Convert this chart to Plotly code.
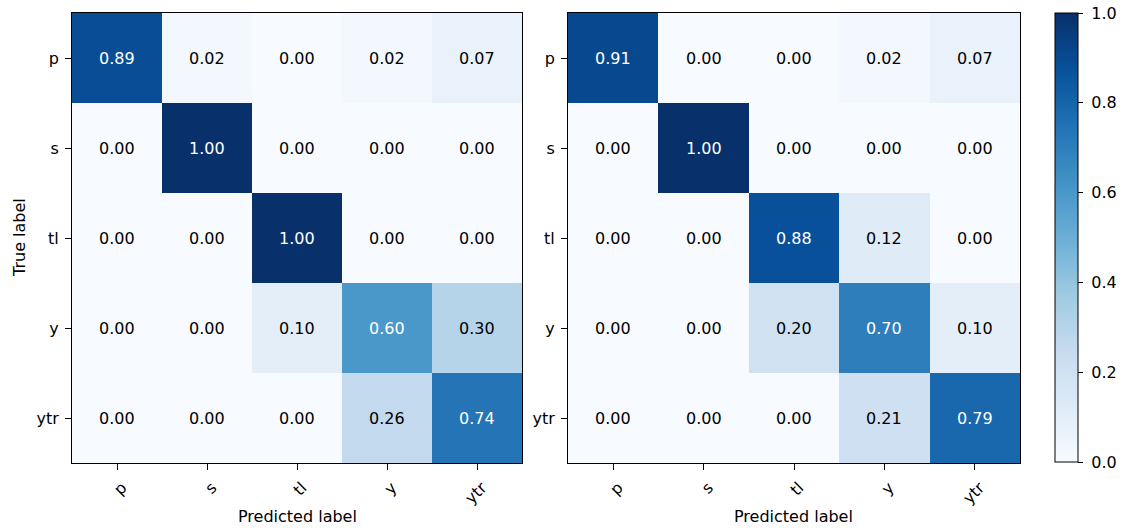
import plotly.graph_objects as go

labels = ["p", "s", "tl", "y", "ytr"]

cm_left = [
    [0.89, 0.02, 0.00, 0.02, 0.07],
    [0.00, 1.00, 0.00, 0.00, 0.00],
    [0.00, 0.00, 1.00, 0.00, 0.00],
    [0.00, 0.00, 0.10, 0.60, 0.30],
    [0.00, 0.00, 0.00, 0.26, 0.74],
]

cm_right = [
    [0.91, 0.00, 0.00, 0.02, 0.07],
    [0.00, 1.00, 0.00, 0.00, 0.00],
    [0.00, 0.00, 0.88, 0.12, 0.00],
    [0.00, 0.00, 0.20, 0.70, 0.10],
    [0.00, 0.00, 0.00, 0.21, 0.79],
]

cbar_ticks = [0.0, 0.2, 0.4, 0.6, 0.8, 1.0]

blues = [
    [0.000, "#f7fbff"], [0.125, "#deebf7"], [0.250, "#c6dbef"],
    [0.375, "#9ecae1"], [0.500, "#6baed6"], [0.625, "#4292c6"],
    [0.750, "#2171b5"], [0.875, "#08519c"], [1.000, "#08306b"],
]

W, H = 1121, 528
FONT = "DejaVu Sans"
FS = 16


def px(x):
    return x / W


def py(y):
    return 1 - y / H


fig = go.Figure()

panels = [(cm_left, "x", "y"), (cm_right, "x2", "y2")]

for i, (cm, xa, ya) in enumerate(panels):
    fig.add_trace(go.Heatmap(
        z=cm, x=labels, y=labels, xaxis=xa, yaxis=ya,
        colorscale=blues, zmin=0, zmax=1,
        showscale=(i == 1),
        colorbar=dict(
            x=px(1055), xanchor="left", thickness=23,
            xpad=0, ypad=0,
            y=py(13), yanchor="top", len=449 / H, lenmode="fraction",
            outlinecolor="black", outlinewidth=1,
            tickvals=cbar_ticks,
            ticktext=["\u00a0" + f"{v:.1f}" for v in cbar_ticks],
            ticks="outside", ticklen=5, tickcolor="black",
            tickfont=dict(family=FONT, size=FS, color="black"),
        ),
        hoverinfo="skip",
    ))
    for r, row in enumerate(cm):
        for c, v in enumerate(row):
            fig.add_annotation(
                x=labels[c], y=labels[r], xref=xa, yref=ya,
                text=f"{v:.2f}", showarrow=False,
                font=dict(family=FONT, size=FS,
                          color="white" if v > 0.5 else "black"),
            )

axis_common = dict(
    type="category", showgrid=False, zeroline=False, automargin=False,
    showline=True, linecolor="black", linewidth=1, mirror=True,
    ticks="outside", ticklen=6, tickcolor="black",
    tickfont=dict(family=FONT, size=FS, color="black"),
)

xtick_style = dict(tickangle=-45, ticklabelstandoff=2, ticklabelshift=5)

yd = [py(463), py(13)]
fig.update_layout(
    width=W, height=H,
    margin=dict(l=0, r=0, t=0, b=0, autoexpand=False),
    paper_bgcolor="white", plot_bgcolor="white",
    xaxis=dict(domain=[px(72), px(522)], anchor="y", **xtick_style,
               categoryorder="array", categoryarray=labels, **axis_common),
    yaxis=dict(domain=yd, anchor="x", autorange="reversed",
               ticklabelstandoff=3,
               categoryorder="array", categoryarray=labels, **axis_common),
    xaxis2=dict(domain=[px(568), px(1020)], anchor="y2", **xtick_style,
                categoryorder="array", categoryarray=labels, **axis_common),
    yaxis2=dict(domain=yd, anchor="x2", autorange="reversed",
                ticklabelstandoff=3,
                categoryorder="array", categoryarray=labels, **axis_common),
    showlegend=False,
)

# Axis titles
for (x0, x1) in [(72, 522), (568, 1020)]:
    fig.add_annotation(
        x=px((x0 + x1) / 2), y=py(516), xref="paper", yref="paper",
        xanchor="center", yanchor="middle",
        text="Predicted label", showarrow=False,
        font=dict(family=FONT, size=FS, color="black"),
    )
fig.add_annotation(
    x=px(20), y=py(238), xref="paper", yref="paper",
    xanchor="center", yanchor="middle",
    text="True label", showarrow=False, textangle=-90,
    font=dict(family=FONT, size=FS, color="black"),
)

fig.write_html("out.html")
